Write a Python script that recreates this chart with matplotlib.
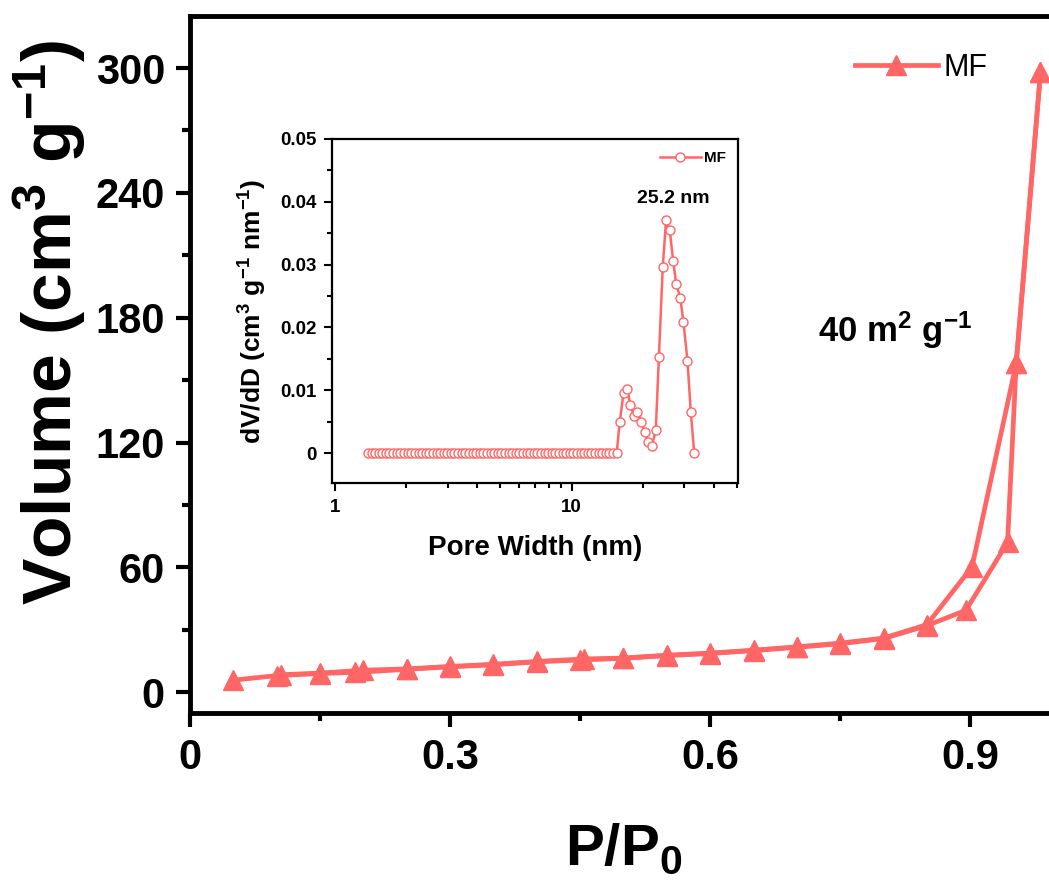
import matplotlib
matplotlib.use("Agg")
import matplotlib.pyplot as plt
from matplotlib.ticker import MultipleLocator, FixedLocator, LogLocator, NullFormatter

plt.rcParams['font.family'] = ['Liberation Sans', 'DejaVu Sans']
plt.rcParams['mathtext.default'] = 'regular'

RED = '#ff6666'

# N2 isotherm (P/P0, cm3/g)
ads_p = [0.05, 0.10, 0.15, 0.19, 0.25, 0.30, 0.35, 0.40, 0.45, 0.50, 0.55,
         0.60, 0.65, 0.70, 0.75, 0.80, 0.85, 0.895, 0.943, 0.953, 0.981]
ads_v = [5.8, 8.0, 9.0, 9.5, 11.0, 12.2, 13.2, 14.6, 15.5, 16.3, 17.6,
         18.6, 20.0, 21.6, 23.3, 25.8, 32.0, 39.4, 72.0, 158.0, 298.0]
des_p = [0.981, 0.953, 0.902, 0.85, 0.80, 0.75, 0.70, 0.65, 0.60, 0.55,
         0.50, 0.455, 0.40, 0.35, 0.30, 0.25, 0.20, 0.15, 0.105]
des_v = [298.0, 158.0, 60.2, 32.5, 26.0, 23.6, 21.8, 20.2, 18.8, 17.8,
         16.4, 16.0, 14.8, 13.4, 12.4, 11.2, 10.6, 9.2, 8.4]

# pore size distribution (nm, cm3 g-1 nm-1)
pore_zero = [1.38, 1.43, 1.48, 1.53, 1.59, 1.65, 1.70, 1.76, 1.83, 1.89,
             1.96, 2.03, 2.10, 2.18, 2.26, 2.34, 2.42, 2.51, 2.59, 2.69,
             2.78, 2.88, 2.99, 3.09, 3.20, 3.32, 3.44, 3.56, 3.68, 3.82,
             3.95, 4.09, 4.24, 4.39, 4.55, 4.71, 4.88, 5.05, 5.23, 5.42,
             5.61, 5.81, 6.02, 6.23, 6.46, 6.69, 6.93, 7.17, 7.43, 7.69,
             7.97, 8.25, 8.55, 8.85, 9.17, 9.50, 9.84, 10.19, 10.55, 10.93,
             11.32, 11.72, 12.14, 12.57, 13.02, 13.49, 13.97, 14.47, 14.98, 15.52]
pore_peak = [15.97, 16.6, 17.2, 17.7, 18.4, 19.0, 19.7, 20.4, 21.1, 21.9, 22.7,
             23.4, 24.3, 25.1, 26.0, 26.9, 27.7, 28.8, 29.7, 30.9, 31.9, 33.0]
dvdd_peak = [0.0049, 0.0096, 0.0102, 0.0077, 0.0059, 0.0066, 0.0050, 0.0033,
             0.0017, 0.0012, 0.0037, 0.0153, 0.0297, 0.0371, 0.0355, 0.0305,
             0.0269, 0.0247, 0.0209, 0.0147, 0.0066, 0.0]
pore_w = pore_zero + pore_peak
dvdd = [0.0] * len(pore_zero) + dvdd_peak

fig = plt.figure(figsize=(10.49, 8.84), dpi=100)
ax = fig.add_axes([0.1811, 0.1934, 0.8265, 0.7885])

ax.plot(ads_p, ads_v, '-^', color=RED, lw=3.4, ms=14, label='MF', clip_on=False, zorder=3)
ax.plot(des_p, des_v, '-^', color=RED, lw=3.4, ms=14, clip_on=False, zorder=3)

ax.set_xlim(0, 1.0)
ax.set_ylim(-10, 325)
ax.xaxis.set_major_locator(FixedLocator([0, 0.3, 0.6, 0.9]))
ax.set_xticklabels(['0', '0.3', '0.6', '0.9'])
ax.xaxis.set_minor_locator(MultipleLocator(0.15))
ax.yaxis.set_major_locator(MultipleLocator(60))
ax.yaxis.set_minor_locator(MultipleLocator(30))
ax.tick_params(which='major', direction='out', length=10, width=3, labelsize=30, pad=8)
ax.tick_params(which='minor', direction='out', length=6, width=3)
for lab in ax.get_xticklabels() + ax.get_yticklabels():
    lab.set_fontweight('bold')
for s in ax.spines.values():
    s.set_linewidth(3.5)

ax.set_xlabel('P/P$_0$', fontsize=42, fontweight='bold', labelpad=32)
ax.set_ylabel('Volume (cm$^3$ g$^{-1}$)', fontsize=50, fontweight='bold')
ax.yaxis.set_label_coords(-0.118, 0.56)
ax.text(0.813, 174, '40 m$^2$ g$^{-1}$', fontsize=25, fontweight='bold', ha='center', va='center')

ax.legend(loc='center left', bbox_to_anchor=(855 / 1049, 1 - 68 / 884),
          bbox_transform=fig.transFigure, frameon=False, fontsize=22,
          handlelength=2.7, handletextpad=0.2, borderpad=0, borderaxespad=0)

# inset
ins = fig.add_axes([0.3162, 0.4533, 0.3873, 0.3895])
ins.plot(pore_w, dvdd, '-o', color=RED, lw=1.8, ms=6.5, mfc='white', mew=1.0, label='MF')
ins.set_xscale('log')
ins.set_xlim(0.97, 50.5)
ins.set_ylim(-0.0048, 0.05)
ins.xaxis.set_major_locator(FixedLocator([1, 10]))
ins.set_xticklabels(['1', '10'])
ins.xaxis.set_minor_locator(LogLocator(base=10, subs=range(2, 10)))
ins.xaxis.set_minor_formatter(NullFormatter())
ins.yaxis.set_major_locator(FixedLocator([0, 0.01, 0.02, 0.03, 0.04, 0.05]))
ins.set_yticklabels(['0', '0.01', '0.02', '0.03', '0.04', '0.05'])
ins.yaxis.set_minor_locator(MultipleLocator(0.005))
ins.tick_params(which='major', direction='out', length=6, width=1.5, labelsize=13.5, pad=5)
ins.tick_params(which='minor', direction='out', length=3.5, width=1.5)
for lab in ins.get_xticklabels() + ins.get_yticklabels():
    lab.set_fontweight('bold')
for s in ins.spines.values():
    s.set_linewidth(1.6)
ins.set_xlabel('Pore Width (nm)', fontsize=20, fontweight='bold', labelpad=14)
ins.set_ylabel('dV/dD (cm$^3$ g$^{-1}$ nm$^{-1}$)', fontsize=19, fontweight='bold', labelpad=8)
ins.text(26.8, 0.0405, '25.2 nm', fontsize=14, fontweight='bold', ha='center', va='center')
leg = ins.legend(loc='upper right', frameon=False, fontsize=11, handlelength=2.7,
                 handletextpad=0.2, borderaxespad=0.4)
for t in leg.get_texts():
    t.set_fontweight('bold')

fig.savefig('out.png', dpi=100)
